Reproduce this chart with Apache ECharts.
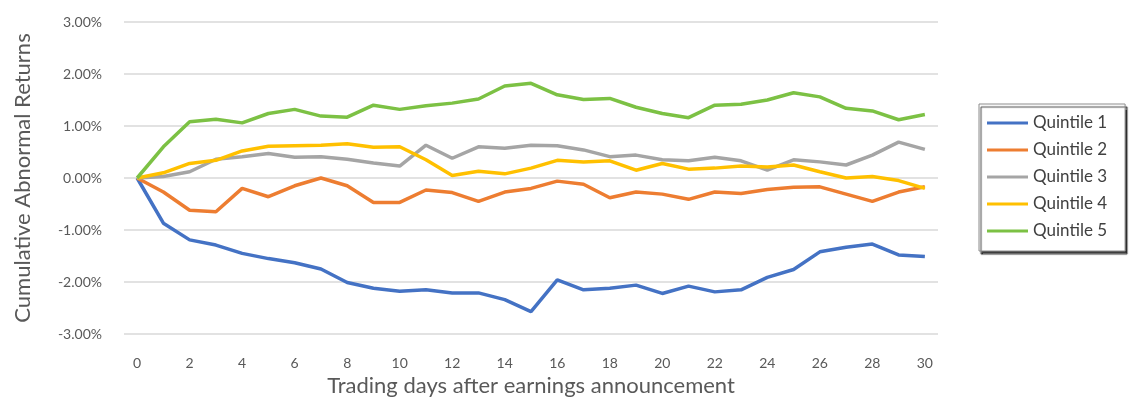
<!DOCTYPE html>
<html>
<head>
<meta charset="utf-8">
<script src="https://cdn.jsdelivr.net/npm/echarts@6/dist/echarts.min.js"></script>
<style>
  html, body { margin: 0; padding: 0; background: #ffffff; }
  #chart { width: 1135px; height: 403px; }
</style>
</head>
<body>
<div id="chart"></div>
<script>
// Trading days after the announcement (0..30)
const days = Array.from({ length: 31 }, (_, i) => String(i));

// Cumulative abnormal returns, in percent, per earnings-surprise quintile
const quintile1 = [0, -0.87, -1.19, -1.29, -1.45, -1.55, -1.63, -1.75, -2.01, -2.12, -2.18, -2.15, -2.21, -2.21, -2.34, -2.57, -1.96, -2.15, -2.12, -2.06, -2.22, -2.08, -2.19, -2.15, -1.91, -1.76, -1.42, -1.33, -1.27, -1.48, -1.51];
const quintile2 = [0, -0.27, -0.62, -0.65, -0.20, -0.36, -0.15, 0.00, -0.15, -0.47, -0.47, -0.23, -0.28, -0.45, -0.27, -0.20, -0.06, -0.12, -0.38, -0.27, -0.31, -0.41, -0.27, -0.30, -0.22, -0.18, -0.17, -0.31, -0.45, -0.27, -0.17];
const quintile3 = [0, 0.03, 0.12, 0.36, 0.41, 0.47, 0.40, 0.41, 0.36, 0.29, 0.23, 0.63, 0.38, 0.60, 0.57, 0.63, 0.62, 0.54, 0.41, 0.44, 0.35, 0.33, 0.40, 0.33, 0.15, 0.35, 0.31, 0.25, 0.44, 0.69, 0.55];
const quintile4 = [0, 0.10, 0.28, 0.34, 0.52, 0.61, 0.62, 0.63, 0.66, 0.59, 0.60, 0.35, 0.05, 0.13, 0.08, 0.19, 0.34, 0.31, 0.33, 0.15, 0.28, 0.17, 0.19, 0.23, 0.21, 0.25, 0.12, 0.00, 0.03, -0.05, -0.20];
const quintile5 = [0, 0.60, 1.08, 1.13, 1.06, 1.24, 1.32, 1.19, 1.17, 1.40, 1.32, 1.39, 1.44, 1.52, 1.77, 1.82, 1.60, 1.51, 1.53, 1.36, 1.24, 1.16, 1.40, 1.42, 1.50, 1.64, 1.56, 1.34, 1.29, 1.12, 1.22];

const seriesNames = ['Quintile 1', 'Quintile 2', 'Quintile 3', 'Quintile 4', 'Quintile 5'];
const seriesColors = ['#4472C4', '#ED7D31', '#A5A5A5', '#FFC000', '#7CC144'];
const seriesData = [quintile1, quintile2, quintile3, quintile4, quintile5];

const FONT = 'Lato, "Open Sans", sans-serif';
const TEXT = '#595959';

const chart = echarts.init(document.getElementById('chart'), null, { renderer: 'canvas' });

chart.setOption({
  animation: false,
  backgroundColor: '#ffffff',
  color: seriesColors,
  grid: { left: 124, right: 197, top: 22, bottom: 69, containLabel: false },
  legend: {
    orient: 'vertical',
    left: 979,
    top: 104,
    icon: 'rect',
    itemWidth: 41,
    itemHeight: 3,
    itemGap: 9,
    itemTextGap: 12,
    padding: [10, 18, 11, 8],
    borderColor: '#8c8c8c',
    borderWidth: 1,
    backgroundColor: '#ffffff',
    shadowColor: 'rgba(0,0,0,0.75)',
    shadowBlur: 1,
    shadowOffsetX: 2,
    shadowOffsetY: 3,
    textStyle: { fontFamily: FONT, fontSize: 17, color: '#404040', lineHeight: 18 },
    data: seriesNames
  },
  xAxis: {
    type: 'category',
    data: days,
    boundaryGap: true,
    name: 'Trading days after earnings announcement',
    nameLocation: 'middle',
    nameGap: 39,
    nameTextStyle: { fontFamily: FONT, fontSize: 22, color: TEXT },
    axisLine: { show: false },
    axisTick: { show: false },
    axisLabel: { interval: 1, margin: 22, fontFamily: FONT, fontSize: 14, color: TEXT },
    splitLine: { show: false }
  },
  yAxis: {
    type: 'value',
    min: -3,
    max: 3,
    interval: 1,
    name: 'Cumulative Abnormal Returns',
    nameLocation: 'middle',
    nameGap: 90,
    nameTextStyle: { fontFamily: FONT, fontSize: 22, color: TEXT },
    axisLine: { show: false },
    axisTick: { show: false },
    axisLabel: {
      margin: 22,
      fontFamily: FONT,
      fontSize: 14,
      color: TEXT,
      formatter: v => v.toFixed(2) + '%'
    },
    splitLine: { show: true, lineStyle: { color: '#D9D9D9', width: 1.5 } }
  },
  series: seriesData.map((d, i) => ({
    name: seriesNames[i],
    type: 'line',
    data: d,
    symbol: 'none',
    smooth: false,
    lineStyle: { width: 3.5, color: seriesColors[i] },
    itemStyle: { color: seriesColors[i] }
  }))
});
</script>
</body>
</html>
